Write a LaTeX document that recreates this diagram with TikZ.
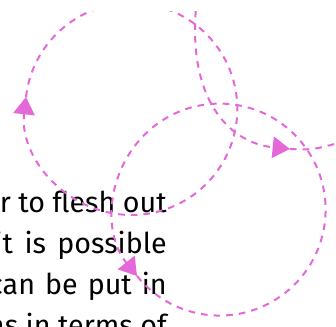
\documentclass[tikz,border=0pt]{standalone}
\usepackage{fontspec}
\setmainfont{Fira Sans}
\usepackage{xcolor}
\usetikzlibrary{arrows.meta}
\definecolor{orchidline}{RGB}{228,104,216}

\begin{document}
\begin{tikzpicture}[
  x=0.75pt, y=0.75pt,
  every node/.style={font=\fontsize{21.5pt}{30pt}\selectfont},
  txt/.style={anchor=base east, inner sep=0pt},
  flow/.style={draw=orchidline, line width=1.5pt, dash pattern=on 5pt off 4.5pt,
    -{Triangle[length=13pt, width=16pt, fill=orchidline, sep=0pt]}},
  trail/.style={draw=orchidline, line width=1.5pt, dash pattern=on 5pt off 4.5pt}
]
\useasboundingbox (0,0) rectangle (336,326);
\clip (0,0) rectangle (336,315);

% paragraph, cut at the left
\node[txt] (l1) at (167,114) {er to flesh out};
\node[txt] (l2) at (167,73)  {it\hspace{0.4em}is\hspace{0.4em}possible};
\node[txt] (l3) at (167,32)  {can\hspace{0.35em}be\hspace{0.35em}put\hspace{0.35em}in};
\node[txt] (l4) at (167,-9)  {ns in terms of};

\coordinate (loopA) at (26,229);
\coordinate (loopB) at (137,50);
\coordinate (src)   at (197,328);
\coordinate (hub)   at (290,177);
\coordinate (east)  at (342,184);

\draw[flow] (loopA) arc[start angle=173.5, delta angle=-360, radius=106];
\draw[flow] (loopB) arc[start angle=218.8, delta angle=360, radius=106];
\draw[flow] (src) .. controls (185,226) and (230,183) .. (hub);
\draw[trail] (hub) .. controls (312,176) .. (east);
\end{tikzpicture}
\end{document}
